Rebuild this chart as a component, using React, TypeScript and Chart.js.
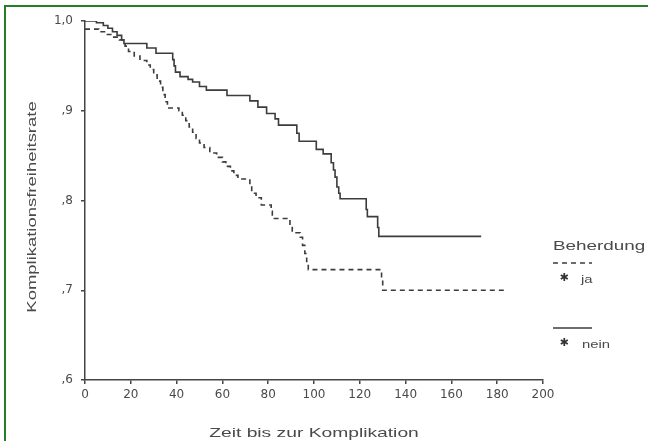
import React, { useEffect, useRef } from 'react';
import { Chart, registerables } from 'chart.js';

Chart.register(...registerables);

// ---- data ----
const xTickValues = [0, 20, 40, 60, 80, 100, 120, 140, 160, 180, 200];
const yTickValues = [0.6, 0.7, 0.8, 0.9, 1.0];
const yTickLabels = [',6', ',7', ',8', ',9', '1,0'];

const xTitle = 'Zeit bis zur Komplikation';
const yTitle = 'Komplikationsfreiheitsrate';
const legendTitle = 'Beherdung';
const seriesNames = ['ja', 'nein'];

const jaTimes = [0, 6, 9, 12, 15, 17.5, 19, 21.5, 24, 27, 28.5, 30, 31.5, 33, 34, 35, 36, 41, 42.5, 44, 45.5, 47, 48.5, 50, 52, 54.5, 57.5, 60, 61.5, 63.5, 65, 66.8, 72, 72.8, 74.7, 77, 81.3, 81.8, 89.5, 90.5, 94, 95, 96, 96.8, 97.5, 129.5, 130, 183];
const jaSurv = [0.991, 0.988, 0.985, 0.982, 0.979, 0.972, 0.966, 0.961, 0.956, 0.951, 0.946, 0.94, 0.933, 0.926, 0.918, 0.91, 0.903, 0.9, 0.895, 0.889, 0.882, 0.876, 0.869, 0.864, 0.859, 0.853, 0.848, 0.843, 0.838, 0.833, 0.828, 0.824, 0.816, 0.808, 0.803, 0.795, 0.788, 0.78, 0.772, 0.764, 0.759, 0.75, 0.741, 0.732, 0.723, 0.712, 0.7, 0.7];

const neinTimes = [0, 5, 8, 10, 12, 14, 16, 17, 27, 31, 38.3, 38.9, 39.5, 41.5, 45, 47, 50, 53, 62, 72, 75.5, 79.3, 83, 84.5, 92.5, 93.5, 101, 104, 107.5, 108.5, 109.2, 110, 110.8, 111.4, 122.8, 123.3, 127.8, 128.3, 173];
const neinSurv = [1.0, 0.998, 0.995, 0.992, 0.988, 0.984, 0.979, 0.975, 0.97, 0.964, 0.957, 0.95, 0.943, 0.938, 0.935, 0.932, 0.927, 0.923, 0.917, 0.911, 0.904, 0.897, 0.891, 0.884, 0.875, 0.866, 0.857, 0.852, 0.842, 0.834, 0.826, 0.815, 0.808, 0.802, 0.79, 0.782, 0.77, 0.76, 0.76];

const LINE = '#3c3c3c';
const TEXT = '#4a4a4a';
const GREEN = '#267f26';

function stretchText(
  ctx: CanvasRenderingContext2D,
  text: string,
  x: number,
  y: number,
  align: CanvasTextAlign,
  sx: number,
  rotate = 0
) {
  ctx.save();
  ctx.translate(x, y);
  if (rotate) ctx.rotate(rotate);
  ctx.scale(sx, 1);
  ctx.textAlign = align;
  ctx.textBaseline = 'alphabetic';
  ctx.fillText(text, 0, 0);
  ctx.restore();
}

const overlayPlugin = {
  id: 'overlay',
  afterDraw(chart: any) {
    const ctx: CanvasRenderingContext2D = chart.ctx;
    const area = chart.chartArea;
    ctx.save();
    ctx.fillStyle = TEXT;
    ctx.font = '13px "Liberation Sans", Arial, sans-serif';
    // axis titles
    stretchText(ctx, xTitle, (area.left + area.right) / 2, 436.5, 'center', 1.48);
    stretchText(ctx, yTitle, 36, 207, 'center', 1.42, -Math.PI / 2);

    // legend
    const lx = area.right + 10;
    stretchText(ctx, legendTitle, lx, 250, 'left', 1.45);
    const rows = [263, 328];
    chart.data.datasets.forEach((ds: any, i: number) => {
      const y = rows[i];
      ctx.save();
      ctx.strokeStyle = ds.borderColor;
      ctx.lineWidth = 1.5;
      ctx.setLineDash(ds.borderDash || []);
      ctx.beginPath();
      ctx.moveTo(lx, y);
      ctx.lineTo(lx + 39, y);
      ctx.stroke();
      ctx.restore();
      ctx.font = 'bold 11px "DejaVu Sans", sans-serif';
      ctx.textAlign = 'center';
      ctx.textBaseline = 'middle';
      ctx.fillStyle = '#333';
      ctx.fillText('✱', lx + 11, y + 15);
      ctx.fillStyle = TEXT;
      ctx.font = '11px "Liberation Sans", Arial, sans-serif';
      stretchText(ctx, seriesNames[i], lx + 28 + (i === 1 ? 1 : 0), y + 19.5, 'left', 1.35);
    });
    ctx.restore();
  },
};

export default function App() {
  const ref = useRef<HTMLCanvasElement | null>(null);

  useEffect(() => {
    if (!ref.current) return;
    const mk = (times: number[], surv: number[]) => times.map((t, i) => ({ x: t, y: surv[i] }));
    const chart = new Chart(ref.current, {
      type: 'line',
      data: {
        datasets: [
          {
            label: seriesNames[0],
            data: mk(jaTimes, jaSurv),
            stepped: true,
            borderColor: LINE,
            borderWidth: 1.6,
            borderDash: [5, 4],
            pointRadius: 0,
            fill: false,
          },
          {
            label: seriesNames[1],
            data: mk(neinTimes, neinSurv),
            stepped: true,
            borderColor: LINE,
            borderWidth: 1.6,
            pointRadius: 0,
            fill: false,
          },
        ],
      },
      options: {
        animation: false,
        responsive: false,
        maintainAspectRatio: false,
        layout: { padding: { top: 21, right: 105, left: 0, bottom: 0 } },
        plugins: { legend: { display: false }, tooltip: { enabled: false } },
        scales: {
          x: {
            type: 'linear',
            min: 0,
            max: 200,
            afterBuildTicks: (s: any) => {
              s.ticks = xTickValues.map((v) => ({ value: v }));
            },
            afterFit: (s: any) => {
              s.height = 61;
            },
            ticks: {
              color: TEXT,
              font: { family: '"DejaVu Sans", sans-serif', size: 12 },
              padding: 4,
              maxRotation: 0,
              autoSkip: false,
            },
            grid: { display: true, drawOnChartArea: false, drawTicks: true, tickLength: 4, color: '#444', lineWidth: 1.5 },
            border: { display: true, color: '#444', width: 1.5 },
          },
          y: {
            type: 'linear',
            min: 0.6,
            max: 1.0,
            afterBuildTicks: (s: any) => {
              s.ticks = yTickValues.map((v) => ({ value: v }));
            },
            afterFit: (s: any) => {
              s.width = 85;
            },
            ticks: {
              color: TEXT,
              font: { family: '"DejaVu Sans", sans-serif', size: 12 },
              padding: 8,
              autoSkip: false,
              callback: (_v: any, i: number) => yTickLabels[i],
            },
            grid: { display: true, drawOnChartArea: false, drawTicks: true, tickLength: 4, color: '#444', lineWidth: 1.5 },
            border: { display: true, color: '#444', width: 1.5 },
          },
        },
      },
      plugins: [overlayPlugin],
    });
    return () => chart.destroy();
  }, []);

  return (
    <div style={{ position: 'fixed', left: 0, top: 0, width: 648, height: 441, background: '#fff', overflow: 'hidden' }}>
      <div style={{ position: 'absolute', left: 4, top: 5, width: 644, height: 2, background: GREEN }} />
      <div style={{ position: 'absolute', left: 4, top: 5, width: 2, height: 436, background: GREEN }} />
      <canvas ref={ref} width={648} height={441} style={{ position: 'absolute', left: 0, top: 0, width: 648, height: 441 }} />
    </div>
  );
}
